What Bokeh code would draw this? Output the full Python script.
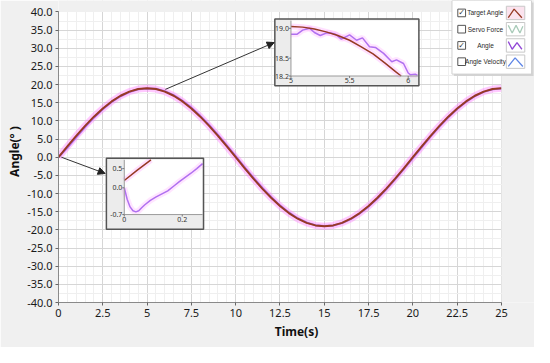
from bokeh.plotting import figure
from bokeh.models import (Range1d, SingleIntervalTicker, Arrow, NormalHead,
                          Label, BoxAnnotation, PolyAnnotation)
from bokeh.embed import file_html
from bokeh.resources import INLINE
from bokeh.core.properties import value

# ---------------- data ----------------
time_s = [0.0, 0.5, 1.0, 1.5, 2.0, 2.5, 3.0, 3.5, 4.0, 4.5, 5.0, 5.5, 6.0, 6.5, 7.0, 7.5,
          8.0, 8.5, 9.0, 9.5, 10.0, 10.5, 11.0, 11.5, 12.0, 12.5, 13.0, 13.5, 14.0, 14.5,
          15.0, 15.5, 16.0, 16.5, 17.0, 17.5, 18.0, 18.5, 19.0, 19.5, 20.0, 20.5, 21.0,
          21.5, 22.0, 22.5, 23.0, 23.5, 24.0, 24.5, 25.0]
target_angle = [0.0, 2.97, 5.87, 8.63, 11.17, 13.43, 15.37, 16.93, 18.07, 18.77, 19.0,
                18.77, 18.07, 16.93, 15.37, 13.43, 11.17, 8.63, 5.87, 2.97, 0.0,
                -2.97, -5.87, -8.63, -11.17, -13.43, -15.37, -16.93, -18.07, -18.77, -19.0,
                -18.77, -18.07, -16.93, -15.37, -13.43, -11.17, -8.63, -5.87, -2.97, 0.0,
                2.97, 5.87, 8.63, 11.17, 13.43, 15.37, 16.93, 18.07, 18.77, 19.0]
angle = [0.0, 2.6, 5.5, 8.3, 10.9, 13.2, 15.2, 16.8, 17.95, 18.7, 18.9,
         18.85, 18.2, 17.1, 15.55, 13.65, 11.4, 8.9, 6.15, 3.25, 0.3,
         -2.7, -5.6, -8.4, -10.95, -13.25, -15.2, -16.8, -17.95, -18.7, -18.95,
         -18.8, -18.15, -17.05, -15.5, -13.6, -11.35, -8.85, -6.1, -3.2, -0.25,
         2.75, 5.65, 8.45, 11.0, 13.3, 15.25, 16.85, 18.0, 18.72, 18.95]

x_ticks = [0, 2.5, 5, 7.5, 10, 12.5, 15, 17.5, 20, 22.5, 25]
x_tick_labels = ["0", "2.5", "5", "7.5", "10", "12.5", "15", "17.5", "20", "22.5", "25"]
y_ticks = [-40, -35, -30, -25, -20, -15, -10, -5, 0, 5, 10, 15, 20, 25, 30, 35, 40]
y_tick_labels = ["-40.0", "-35.0", "-30.0", "-25.0", "-20.0", "-15.0", "-10.0", "-5.0", "0.0",
                 "5.0", "10.0", "15.0", "20.0", "25.0", "30.0", "35.0", "40.0"]

# inset 1: start of the motion
inset1_time = [0.0, 0.005, 0.01, 0.02, 0.03, 0.04, 0.05, 0.06, 0.07, 0.09, 0.11, 0.13,
               0.15, 0.17, 0.19, 0.21, 0.23, 0.25, 0.27]
inset1_angle = [0.0, -0.15, -0.3, -0.5, -0.6, -0.63, -0.6, -0.52, -0.45, -0.33, -0.24, -0.16,
                -0.08, 0.04, 0.16, 0.27, 0.38, 0.5, 0.63]
inset1_target_time = [0.0, 0.045, 0.092]
inset1_target = [0.19, 0.46, 0.73]
inset1_x_ticks = [0, 0.2]
inset1_x_labels = ["0", "0.2"]
inset1_y_ticks = [0.5, 0.0, -0.7]
inset1_y_labels = ["0.5", "0.0", "-0.7"]

# inset 2: around the first peak
inset2_time = [5.0, 5.05, 5.1, 5.16, 5.2, 5.25, 5.3, 5.34, 5.38, 5.43, 5.5, 5.56, 5.61,
               5.67, 5.72, 5.79, 5.86, 5.9, 5.96, 6.0, 6.02, 6.06, 6.08]
inset2_angle = [18.9, 18.9, 18.97, 19.0, 18.93, 18.88, 18.92, 18.92, 18.9, 18.82, 18.89,
                18.8, 18.84, 18.69, 18.68, 18.58, 18.44, 18.47, 18.41, 18.25, 18.22, 18.23, 18.21]
inset2_target_time = [5.0, 5.1, 5.2, 5.3, 5.4, 5.5, 5.6, 5.7, 5.8, 5.9, 5.94]
inset2_target = [19.03, 19.02, 18.99, 18.94, 18.88, 18.8, 18.69, 18.57, 18.42, 18.26, 18.2]
inset2_x_ticks = [5, 5.5, 6]
inset2_x_labels = ["5", "5.5", "6"]
inset2_y_ticks = [19.0, 18.5, 18.2]
inset2_y_labels = ["19.0", "18.5", "18.2"]

legend_names = ["Target Angle", "Servo Force", "Angle", "Angle Velocity"]
legend_checked = [True, False, True, False]

# ---------------- styles / layout ----------------
C_TARGET = "#963a24"
C_ANGLE = "#b070f0"
C_HALO = "#ff70ff"
C_BG = "#f0f0f0"
FONT = "Noto Sans"

W, H = 534, 347
REF_W, REF_H = 550, 363
SX, SY = W / REF_W, H / REF_H

# plot-frame geometry of the reference, in its own pixels
FL, FR, FT, FB = 60, 516, 12, 316
X0, X1, Y0, Y1 = 0, 25, -40, 40


def dx(px):
    return X0 + (px - FL) / (FR - FL) * (X1 - X0)


def dy(py):
    return Y1 - (py - FT) / (FB - FT) * (Y1 - Y0)


def cx(px):
    return px * SX


def cy(py):
    return py * SY


# the frame reaches the right and top edges so the legend box is not clipped
XE, YE = dx(REF_W), dy(0)
p = figure(width=W, height=H, x_range=Range1d(X0, XE), y_range=Range1d(Y0, YE),
           output_backend="svg", toolbar_location=None,
           min_border_left=round(cx(FL)), min_border_right=0,
           min_border_top=0, min_border_bottom=H - round(cy(FB)),
           background_fill_color="white", border_fill_color=C_BG,
           outline_line_color=None)

p.xaxis.ticker = SingleIntervalTicker(interval=2.5, num_minor_ticks=5)
p.yaxis.ticker = SingleIntervalTicker(interval=5, num_minor_ticks=2)
p.xaxis.major_label_overrides = {float(t): l for t, l in zip(x_ticks, x_tick_labels)}
p.yaxis.major_label_overrides = {float(t): l for t, l in zip(y_ticks, y_tick_labels)}
p.xaxis.bounds = (X0, X1)
p.yaxis.bounds = (Y0, Y1)

for ax in (p.xaxis[0], p.yaxis[0]):
    ax.axis_line_color = "#8a8a8a"
    ax.major_tick_line_color = "#666666"
    ax.major_tick_in = 0
    ax.major_tick_out = 3
    ax.minor_tick_line_color = None
    ax.major_label_text_font = FONT
    ax.major_label_text_font_size = "11px"
    ax.major_label_text_color = "#1a1a1a"
    ax.major_label_standoff = 2
    ax.axis_label_text_font = FONT
    ax.axis_label_text_font_size = "12px"
    ax.axis_label_text_font_style = "bold"
    ax.axis_label_text_color = "#111111"
    ax.axis_label_standoff = 3
p.yaxis.axis_label_standoff = 1

p.xaxis.axis_label = "Time(s)"
p.yaxis.axis_label = "Angle(° )"

p.xgrid.grid_line_color = "#d6d6d6"
p.ygrid.grid_line_color = "#d6d6d6"
p.xgrid.minor_grid_line_color = "#efefef"
p.ygrid.minor_grid_line_color = "#efefef"

# main curves
p.line(time_s, target_angle, line_color=C_HALO, line_width=7, line_alpha=0.38, line_join="round")
p.line(time_s, angle, line_color=C_ANGLE, line_width=2, line_join="round")
p.line(time_s, target_angle, line_color=C_TARGET, line_width=2, line_join="round")

# grey surround beyond the plotting area (right and top strips)
p.quad(left=[X1, X0 - 1], right=[XE + 1, XE + 1], bottom=[Y0 - 1, Y1], top=[YE + 1, YE + 1],
       fill_color=C_BG, line_color=None)


def inset(outer, inner, xr, yr, xt, xl, yt, yl, t_x, t_y, a_x, a_y):
    ol, ot, orr, ob = outer
    il, it, ir, ib = inner
    p.quad(left=[dx(ol)], right=[dx(orr)], top=[dy(ot)], bottom=[dy(ob)],
           fill_color="#ececec", line_color=None)
    sub = p.subplot(x_source=Range1d(*xr), y_source=Range1d(*yr),
                    x_target=Range1d(dx(il), dx(ir)), y_target=Range1d(dy(ib), dy(it)))
    sub.quad(left=[xr[0]], right=[xr[1]], bottom=[yr[0]], top=[yr[1]],
             fill_color="white", line_color=None)
    sub.line(t_x, t_y, line_color=C_HALO, line_width=6, line_alpha=0.22)
    sub.line(a_x, a_y, line_color=C_HALO, line_width=6, line_alpha=0.18)
    sub.line(a_x, a_y, line_color=C_ANGLE, line_width=1.5)
    sub.line(t_x, t_y, line_color=C_TARGET, line_width=1.5)
    sub.segment(x0=[xr[0], xr[0]], y0=[yr[0], yr[0]], x1=[xr[0], xr[1]], y1=[yr[1], yr[0]],
                line_color="#9a9a9a", line_width=1)
    pxx = (ir - il) / (xr[1] - xr[0])
    pxy = (ib - it) / (yr[1] - yr[0])
    sub.segment(x0=[xr[0]] * len(yt), y0=yt, x1=[xr[0] - 2 / pxx] * len(yt), y1=yt,
                line_color="#777777")
    sub.segment(x0=xt, y0=[yr[0]] * len(xt), x1=xt, y1=[yr[0] - 2 / pxy] * len(xt),
                line_color="#777777")
    sub.text(x=[xr[0]] * len(yt), y=yt, text=yl, x_offset=-2,
             text_align="right", text_baseline="middle",
             text_font=value(FONT), text_font_size="7px", text_color="#333333")
    sub.text(x=xt, y=[yr[0]] * len(xt), text=xl, y_offset=2,
             text_align="center", text_baseline="top",
             text_font=value(FONT), text_font_size="7px", text_color="#333333")
    p.quad(left=[dx(ol)], right=[dx(orr)], top=[dy(ot)], bottom=[dy(ob)],
           fill_color=None, line_color="#555555", line_width=1.5)


inset((109.3, 165, 209.3, 239.3), (127.7, 166.7, 208.3, 224), (0, 0.27), (-0.7, 0.73),
      inset1_x_ticks, inset1_x_labels, inset1_y_ticks, inset1_y_labels,
      inset1_target_time, inset1_target, inset1_time, inset1_angle)
inset((282.7, 19.3, 431, 89.3), (299.3, 21, 430, 79), (5, 6.083), (18.2, 19.13),
      inset2_x_ticks, inset2_x_labels, inset2_y_ticks, inset2_y_labels,
      inset2_target_time, inset2_target, inset2_time, inset2_angle)

for (sx, sy, ex, ey) in [(63, 164, 108, 181), (170, 93, 282, 44)]:
    p.add_layout(Arrow(end=NormalHead(size=7, fill_color="#222222", line_color="#222222"),
                       x_start=dx(sx), y_start=dy(sy), x_end=dx(ex), y_end=dy(ey),
                       line_color="#333333", line_width=1))


# ---------------- legend (canvas units) ----------------
def units_ok(u):
    try:
        Label(x=0, y=0, x_units=u, y_units=u, text="")
        BoxAnnotation(left=0, left_units=u, top=0, top_units=u)
        PolyAnnotation(xs=[0], ys=[0], xs_units=u, ys_units=u)
        return True
    except Exception:
        return False


U = "canvas" if units_ok("canvas") else "screen"


def box(l, t, r, b, **kw):
    p.add_layout(BoxAnnotation(left=cx(l), right=cx(r), top=cy(t), bottom=cy(b),
                               left_units=U, right_units=U, top_units=U, bottom_units=U,
                               level="overlay", line_alpha=1.0, **kw))


box(467, 2, 549, 79, fill_color="#cccccc", fill_alpha=0.8, line_color=None)
box(465, 0, 547, 77, fill_color="white", fill_alpha=1.0, line_color="#d0d0d0")

row_y = [13, 30, 47, 64]
swatch_color = [C_TARGET, "#a9cbb9", "#9248d6", "#5f86e6"]
swatch_fill = ["#fbe3ee", "#ffffff", "#ffffff", "#ffffff"]
swatch_shape = [[(2, 5), (8, -4), (16, 5)],
                [(2, -4), (6, 4), (10, -4), (14, 4), (17, -3)],
                [(2, -4), (6, 4), (11, -3), (16, 4)],
                [(2, 5), (9, -4), (17, 5)]]

for name, chk, yc, col, fc, shape in zip(legend_names, legend_checked, row_y,
                                         swatch_color, swatch_fill, swatch_shape):
    box(471, yc - 4, 479, yc + 4, fill_color="white", fill_alpha=1.0,
        line_color="#555555", line_width=1)
    if chk:
        p.add_layout(Label(x=cx(475), y=cy(yc), x_units=U, y_units=U, text="✓",
                           text_align="center", text_baseline="middle",
                           text_font="DejaVu Sans", text_font_size="8px",
                           text_color="#333333", level="overlay"))
    p.add_layout(Label(x=cx(499.5), y=cy(yc), x_units=U, y_units=U, text=name,
                       text_align="center", text_baseline="middle",
                       text_font="Liberation Sans", text_font_size="6.5px",
                       text_color="#2a2a2a", level="overlay"))
    sx0 = 521
    box(sx0, yc - 7, sx0 + 19, yc + 7, fill_color=fc, fill_alpha=1.0, line_color="#c8c8c8")
    pts = shape + shape[-2:0:-1]
    p.add_layout(PolyAnnotation(xs=[cx(sx0 + a) for a, b in pts], ys=[cy(yc + b) for a, b in pts],
                                xs_units=U, ys_units=U,
                                fill_color=None, fill_alpha=0, line_color=col, line_alpha=1.0,
                                line_width=1.3, level="overlay"))

open("out.html", "w").write(file_html(p, INLINE))
